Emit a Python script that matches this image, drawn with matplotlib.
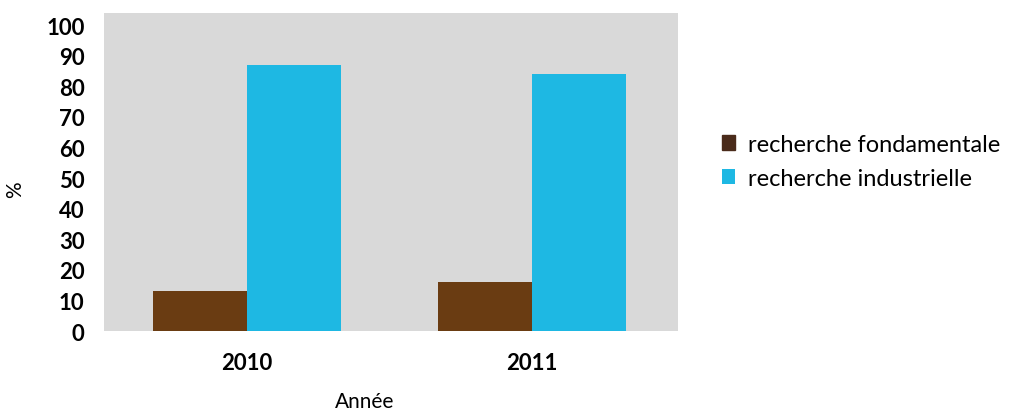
import matplotlib
matplotlib.use("Agg")
import matplotlib.pyplot as plt
import numpy as np

years = ["2010", "2011"]
fondamentale = [13, 16]
industrielle = [87, 84]
series_names = ["recherche fondamentale", "recherche industrielle"]
yticks = list(range(0, 101, 10))

plt.rcParams["font.family"] = ["Lato", "DejaVu Sans"]

fig = plt.figure(figsize=(10.1, 4.14), dpi=100)
ax = fig.add_axes([0.103, 0.198, 0.568, 0.768])
ax.set_facecolor("#d9d9d9")

x = np.arange(len(years))
w = 0.33
b1 = ax.bar(x - w / 2, fondamentale, w, color="#6a3c12", label=series_names[0])
b2 = ax.bar(x + w / 2, industrielle, w, color="#1eb8e3", label=series_names[1])

ax.set_xlim(-0.502, 1.512)
ax.set_ylim(0, 103.9)
ax.set_yticks(yticks)
ax.set_yticklabels([str(t) for t in yticks], fontsize=16, fontweight="bold")
ax.set_xticks(x)
ax.set_xticklabels(years, fontsize=16, fontweight="bold")
ax.tick_params(axis="both", length=0)
ax.tick_params(axis="y", pad=14)
ax.tick_params(axis="x", pad=15)
for s in ax.spines.values():
    s.set_visible(False)

ax.set_xlabel("Année", fontsize=15)
ax.xaxis.set_label_coords(0.454, -0.19)
ax.set_ylabel("%", fontsize=15)
ax.yaxis.set_label_coords(-0.138, 0.447)

leg = fig.legend(handles=[b1, b2], loc="center left", bbox_to_anchor=(0.694, 0.608),
                 frameon=False, fontsize=17, handlelength=0.55, handleheight=0.55,
                 handletextpad=0.55, labelspacing=0.55)
leg.legend_handles[0].set_color("#4a2b1a")

fig.savefig("out.png", dpi=100)
